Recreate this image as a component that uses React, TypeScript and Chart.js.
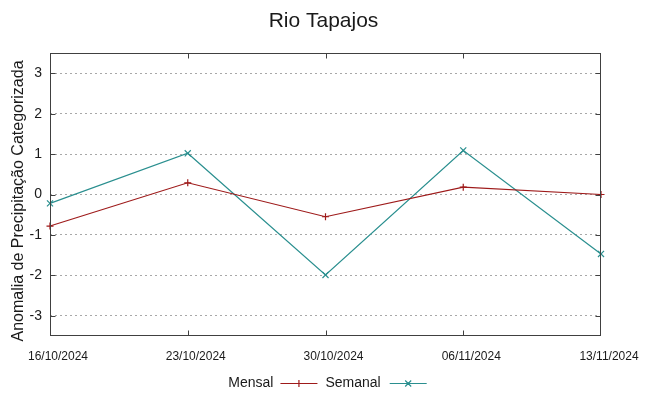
import React, { useEffect, useRef } from 'react';
import { Chart, registerables } from 'chart.js';

Chart.register(...registerables);

const chartTitle = 'Rio Tapajos';
const yAxisTitle = 'Anomalia de Precipitação Categorizada';
const categories = ['16/10/2024', '23/10/2024', '30/10/2024', '06/11/2024', '13/11/2024'];
const mensal = [-0.78, 0.29, -0.55, 0.18, 0.0];
const semanal = [-0.22, 1.02, -1.99, 1.09, -1.47];
const yTickValues = [-3, -2, -1, 0, 1, 2, 3];
const seriesNames = ['Mensal', 'Semanal'];

const FONT = "'Liberation Sans', Arial, Helvetica, sans-serif";
const RED = '#9e1a1a';
const TEAL = '#2a8f8f';
const TEXT = '#1a1a1a';

const framePlugin = {
  id: 'gnuplotFrame',
  afterDraw(chart: any) {
    const ctx = chart.ctx as CanvasRenderingContext2D;
    const a = chart.chartArea;
    const xs = chart.scales.x;
    const ys = chart.scales.y;
    ctx.save();
    // border box
    ctx.strokeStyle = '#404040';
    ctx.lineWidth = 1;
    const L = Math.round(a.left) + 0.5;
    const R = Math.round(a.right) - 0.5;
    const T = Math.round(a.top) + 0.5;
    const B = Math.round(a.bottom) - 0.5;
    ctx.strokeRect(L, T, R - L, B - T);
    // inward tick marks
    const tl = 5;
    ctx.beginPath();
    yTickValues.forEach((v) => {
      const y = Math.round(ys.getPixelForValue(v)) + 0.5;
      ctx.moveTo(L, y); ctx.lineTo(L + tl, y);
      ctx.moveTo(R, y); ctx.lineTo(R - tl, y);
    });
    categories.forEach((_, i) => {
      if (i === 0 || i === categories.length - 1) return;
      const x = Math.round(xs.getPixelForValue(i)) + 0.5;
      ctx.moveTo(x, B); ctx.lineTo(x, B - tl);
      ctx.moveTo(x, T); ctx.lineTo(x, T + tl);
    });
    ctx.stroke();

    // title
    ctx.fillStyle = TEXT;
    ctx.font = `21px ${FONT}`;
    ctx.textAlign = 'center';
    ctx.textBaseline = 'alphabetic';
    ctx.fillText(chartTitle, chart.width / 2 - 1, 27);

    // y-axis title
    ctx.save();
    ctx.translate(19, 201);
    ctx.rotate(-Math.PI / 2);
    ctx.font = `16px ${FONT}`;
    ctx.textAlign = 'center';
    ctx.textBaseline = 'middle';
    ctx.fillText(yAxisTitle, 0, 0);
    ctx.restore();

    // legend
    ctx.font = `14px ${FONT}`;
    const sample = 37;
    const w0 = ctx.measureText(seriesNames[0]).width;
    const w1 = ctx.measureText(seriesNames[1]).width;
    const total = w0 + 7 + sample + 8 + w1 + 9 + sample;
    let x = chart.width / 2 + 3 - total / 2;
    const ly = 383.5;
    const baseline = 387;
    ctx.textAlign = 'left';
    ctx.textBaseline = 'alphabetic';
    ctx.fillStyle = TEXT;
    ctx.fillText(seriesNames[0], x, baseline);
    x += w0 + 7;
    ctx.strokeStyle = RED;
    ctx.lineWidth = 1.2;
    ctx.beginPath();
    ctx.moveTo(x, ly); ctx.lineTo(x + sample, ly);
    const cx0 = x + sample / 2;
    ctx.moveTo(cx0 - 3.5, ly); ctx.lineTo(cx0 + 3.5, ly);
    ctx.moveTo(cx0, ly - 3.5); ctx.lineTo(cx0, ly + 3.5);
    ctx.stroke();
    x += sample + 8;
    ctx.fillText(seriesNames[1], x, baseline);
    x += w1 + 9;
    ctx.strokeStyle = TEAL;
    ctx.beginPath();
    ctx.moveTo(x, ly); ctx.lineTo(x + sample, ly);
    const cx1 = x + sample / 2;
    ctx.moveTo(cx1 - 3, ly - 3); ctx.lineTo(cx1 + 3, ly + 3);
    ctx.moveTo(cx1 - 3, ly + 3); ctx.lineTo(cx1 + 3, ly - 3);
    ctx.stroke();
    ctx.restore();
  },
};

export default function App() {
  const ref = useRef<HTMLCanvasElement | null>(null);

  useEffect(() => {
    if (!ref.current) return;
    const chart = new Chart(ref.current, {
      type: 'line',
      data: {
        labels: categories,
        datasets: [
          {
            label: seriesNames[0],
            data: mensal,
            borderColor: RED,
            backgroundColor: RED,
            borderWidth: 1.2,
            pointStyle: 'cross',
            pointRadius: 3.5,
            pointBorderWidth: 1.2,
            pointBorderColor: RED,
            tension: 0,
            fill: false,
            clip: false as any,
          },
          {
            label: seriesNames[1],
            data: semanal,
            borderColor: TEAL,
            backgroundColor: TEAL,
            borderWidth: 1.2,
            pointStyle: 'crossRot',
            pointRadius: 4.3,
            pointBorderWidth: 1.2,
            pointBorderColor: TEAL,
            tension: 0,
            fill: false,
            clip: false as any,
          },
        ],
      },
      options: {
        responsive: false,
        devicePixelRatio: 1,
        animation: false,
        events: [],
        layout: { padding: { left: 0, right: 48, top: 53, bottom: 0 } },
        plugins: {
          legend: { display: false },
          title: { display: false },
          tooltip: { enabled: false },
        },
        scales: {
          x: {
            type: 'category',
            offset: false,
            grid: { display: false, drawTicks: false },
            border: { display: false },
            ticks: {
              autoSkip: false,
              maxRotation: 0,
              minRotation: 0,
              padding: 13,
              labelOffset: 8,
              color: TEXT,
              font: { family: FONT, size: 12 },
            },
            afterFit: (s: any) => { s.height = 60; },
          },
          y: {
            type: 'linear',
            min: -3.5,
            max: 3.5,
            afterBuildTicks: (s: any) => { s.ticks = yTickValues.map((v) => ({ value: v })); },
            grid: { color: '#a8a8a8', lineWidth: 1, drawTicks: false },
            border: { display: false, dash: [2, 3] },
            ticks: {
              padding: 8,
              color: TEXT,
              font: { family: FONT, size: 14 },
            },
            afterFit: (s: any) => { s.width = 50; },
          },
        },
      },
      plugins: [framePlugin],
    });
    return () => chart.destroy();
  }, []);

  return (
    <div style={{ position: 'absolute', left: 0, top: 0, width: 649, height: 396, background: '#fff' }}>
      <canvas ref={ref} width={649} height={396} style={{ display: 'block' }} />
    </div>
  );
}
